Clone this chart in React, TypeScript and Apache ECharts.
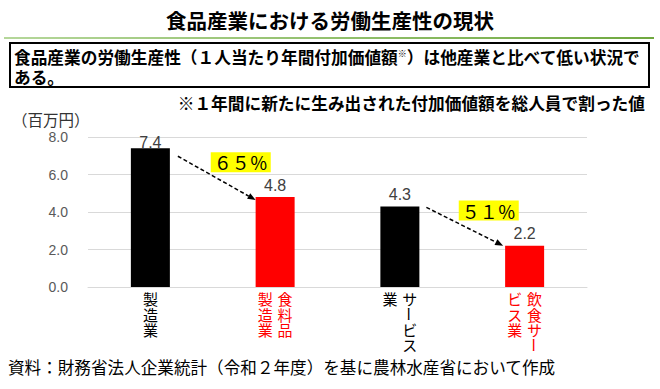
import React, { useEffect, useRef } from "react";
import * as echarts from "echarts";

const categories = ["製造業", "食料品製造業", "サービス業", "飲食サービス業"];
// vertical label columns, right column first (vertical writing reads right-to-left)
const labelColumns: string[][] = [["製造業"], ["食料品", "製造業"], ["サービス", "業"], ["飲食サー", "ビス業"]];
const values = [7.4, 4.8, 4.3, 2.2];
const highlight = [false, true, false, true];
const ratioLabels = ["６５％", "５１％"];
const ratioPairs = [[0, 1], [2, 3]];
const yTicks = [0, 2, 4, 6, 8];

const titleText = "食品産業における労働生産性の現状";
const boxLine1 = "食品産業の労働生産性（１人当たり年間付加価値額{s|※}）は他産業と比べて低い状況で";
const boxLine2 = "ある。";
const noteText = "※１年間に新たに生み出された付加価値額を総人員で割った値";
const unitText = "（百万円）";
const sourceText = "資料：財務省法人企業統計（令和２年度）を基に農林水産省において作成";

const JP = "'Noto Sans CJK JP', 'Noto Sans', sans-serif";
const NUM = "'Liberation Sans', Arial, 'Noto Sans CJK JP', sans-serif";

const LBL_FS = 15;
const LBL_LH = 15.4;
const LBL_GAP = 5;
const LBL_MARGIN = 4;
const BAR_W = 39;

type Dash = { cat: number; row: number; dx: number; color: string };

function buildLabel(idx: number, dashes: Dash[] | null) {
  const cols = labelColumns[idx];
  const style = highlight[idx] ? "r" : "k";
  const color = highlight[idx] ? "#FF0000" : "#000000";
  const rows = Math.max(...cols.map((c) => c.length));
  const lines: string[] = [];
  const cell = (ch: string | undefined, r: number, dx: number) => {
    if (ch === "ー") {
      if (dashes) dashes.push({ cat: idx, row: r, dx, color });
      return `{${style}|　}`;
    }
    return `{${style}|${ch || "　"}}`;
  };
  for (let r = 0; r < rows; r++) {
    if (cols.length === 1) {
      lines.push(cell(cols[0][r], r, 0));
    } else {
      const off = LBL_GAP / 2 + LBL_FS / 2;
      lines.push(cell(cols[1][r], r, -off) + "{g| }" + cell(cols[0][r], r, off));
    }
  }
  return lines.join("\n");
}

export default function App() {
  const ref = useRef<HTMLDivElement>(null);
  useEffect(() => {
    const el = ref.current!;
    const chart = echarts.init(el, null, { renderer: "svg" });
    const cellStyle = { width: LBL_FS, align: "center", fontSize: LBL_FS, lineHeight: LBL_LH, fontFamily: JP };
    chart.setOption({
      animation: false,
      grid: { left: 88, right: 73, top: 137, bottom: 102, containLabel: false },
      xAxis: {
        type: "category",
        data: categories,
        axisTick: { show: false },
        axisLine: { lineStyle: { color: "#D9D9D9", width: 1 } },
        axisLabel: {
          interval: 0,
          margin: LBL_MARGIN,
          formatter: (_v: string, i: number) => buildLabel(i, null),
          rich: {
            k: { ...cellStyle, color: "#000000" },
            r: { ...cellStyle, color: "#FF0000" },
            g: { width: LBL_GAP, fontSize: LBL_FS, lineHeight: LBL_LH },
          },
        },
      },
      yAxis: {
        type: "value",
        min: yTicks[0],
        max: yTicks[yTicks.length - 1],
        interval: yTicks[1] - yTicks[0],
        axisLine: { show: false },
        axisTick: { show: false },
        splitLine: { lineStyle: { color: "#D9D9D9", width: 1 } },
        axisLabel: {
          margin: 20,
          color: "#595959",
          fontSize: 14,
          fontFamily: NUM,
          formatter: (v: number) => v.toFixed(1),
        },
      },
      series: [
        {
          type: "bar",
          barWidth: BAR_W,
          data: values.map((v, i) => ({
            value: v,
            itemStyle: { color: highlight[i] ? "#FF0000" : "#000000" },
            label: i === 0 ? { distance: -2 } : undefined,
          })),
          label: {
            show: true,
            position: "top",
            distance: 4,
            color: "#404040",
            fontSize: 16,
            fontFamily: NUM,
            formatter: (p: any) => Number(p.value).toFixed(1),
          },
        },
      ],
    });

    const px = (cat: number, v: number) => chart.convertToPixel({ gridIndex: 0 }, [cat, v]) as number[];
    const axisY = px(0, 0)[1];
    const graphics: any[] = [];

    // title, rule, box
    graphics.push({
      type: "text", x: 330, y: 20,
      style: { text: titleText, fill: "#000", fontSize: 20.5, fontWeight: "bold", fontFamily: JP, textAlign: "center", textVerticalAlign: "middle" },
    });
    graphics.push({
      type: "rect", shape: { x: 4, y: 37, width: 650, height: 2 },
      style: { fill: new echarts.graphic.LinearGradient(0, 0, 1, 0, [{ offset: 0, color: "#B5D79A" }, { offset: 1, color: "#6FA83F" }]) },
    });
    graphics.push({
      type: "rect", shape: { x: 10, y: 43, width: 639, height: 44 },
      style: { fill: "#fff", stroke: "#000", lineWidth: 2 },
    });
    graphics.push({
      type: "text", x: 14, y: 57,
      style: {
        text: boxLine1, fill: "#000", fontSize: 16.7, fontWeight: "bold", fontFamily: JP, textVerticalAlign: "middle",
        rich: { s: { fontSize: 9, fontWeight: "bold", fontFamily: JP, verticalAlign: "top", padding: [0, 0, 8, 0] } },
      },
    });
    graphics.push({
      type: "text", x: 14, y: 77,
      style: { text: boxLine2, fill: "#000", fontSize: 16.7, fontWeight: "bold", fontFamily: JP, textVerticalAlign: "middle" },
    });
    graphics.push({
      type: "text", x: 645, y: 103,
      style: { text: noteText, fill: "#000", fontSize: 16.7, fontWeight: "bold", fontFamily: JP, textAlign: "right", textVerticalAlign: "middle" },
    });
    graphics.push({
      type: "text", x: 12, y: 119,
      style: { text: unitText, fill: "#333", fontSize: 15.5, fontFamily: JP, textVerticalAlign: "middle" },
    });
    graphics.push({
      type: "text", x: 8, y: 367,
      style: { text: sourceText, fill: "#000", fontSize: 16.6, fontFamily: JP, textVerticalAlign: "middle" },
    });

    // vertical long-vowel marks in category labels
    const dashes: Dash[] = [];
    categories.forEach((_c, i) => buildLabel(i, dashes));
    dashes.forEach((d) => {
      const cx = px(d.cat, 0)[0] + d.dx;
      const cy = axisY + LBL_MARGIN + (d.row + 0.5) * LBL_LH;
      graphics.push({
        type: "text", x: cx, y: cy, rotation: -Math.PI / 2,
        style: { text: "ー", fill: d.color, fontSize: LBL_FS, fontFamily: JP, textAlign: "center", textVerticalAlign: "middle" },
      });
    });

    // ratio arrows and labels
    const arrowOffsets = [
      { sdx: 8, sdy: 8, edx: 0, edy: 3 },
      { sdx: 7, sdy: 1, edx: -2, edy: 0 },
    ];
    ratioPairs.forEach(([a, b], k) => {
      const o = arrowOffsets[k];
      const pa = px(a, values[a]);
      const pb = px(b, values[b]);
      const sx = pa[0] + BAR_W / 2 + o.sdx;
      const sy = pa[1] + o.sdy;
      const ex = pb[0] - BAR_W / 2 + o.edx;
      const ey = pb[1] + o.edy;
      const ang = Math.atan2(ey - sy, ex - sx);
      const hl = 8, hw = 3.2;
      const bx = ex - hl * Math.cos(ang);
      const by = ey - hl * Math.sin(ang);
      graphics.push({
        type: "line", shape: { x1: sx, y1: sy, x2: bx, y2: by },
        style: { stroke: "#000", lineWidth: 1.5, lineDash: [4, 2.5] },
      });
      graphics.push({
        type: "polygon",
        shape: {
          points: [
            [ex, ey],
            [bx - hw * Math.sin(ang), by + hw * Math.cos(ang)],
            [bx + hw * Math.sin(ang), by - hw * Math.cos(ang)],
          ],
        },
        style: { fill: "#000" },
      });
      const mx = (sx + ex) / 2 + 24;
      const my = (sy + ey) / 2 - 16;
      graphics.push({
        type: "text", x: mx, y: my,
        style: {
          text: ratioLabels[k], fill: "#000", fontSize: 18, fontFamily: JP, textAlign: "center", textVerticalAlign: "middle",
          backgroundColor: "#FFFF00", padding: [1, 3, 1, 3], lineHeight: 18,
        },
      });
    });

    chart.setOption({ graphic: graphics });
    return () => chart.dispose();
  }, []);
  return <div ref={ref} style={{ position: "fixed", left: 0, top: 0, width: 660, height: 389, background: "#fff" }} />;
}
